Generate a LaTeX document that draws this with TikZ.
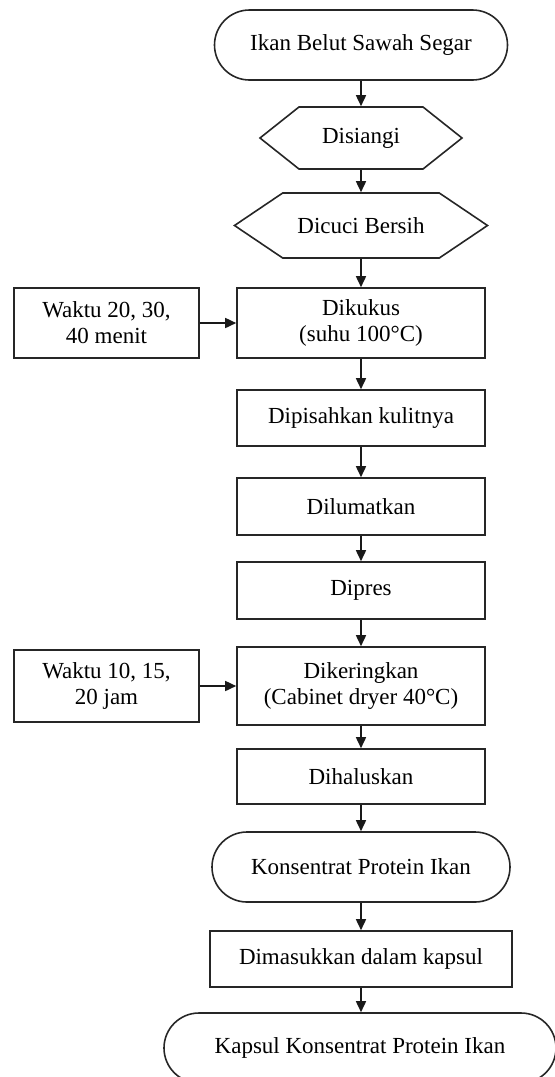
\documentclass[tikz,border=0pt]{standalone}
\usepackage{fontspec}
\setmainfont{Liberation Serif}
\usetikzlibrary{arrows.meta,shapes.symbols}

\begin{document}
\begin{tikzpicture}
    [
      x=0.5pt,y=-0.5pt,
      font=\fontsize{11.5}{13}\selectfont,
      terminal/.style={draw=black!85,line width=0.8pt,rectangle,
        rounded corners=17.5pt,minimum height=35pt},
      process/.style={draw=black!85,line width=0.8pt,rectangle,align=center},
      prep/.style={draw=black!85,line width=0.8pt,signal,
        signal to=west and east},
      flow/.style={-{Triangle[length=5.5pt,width=5pt]},line width=0.8pt,
        draw=black!90}
    ]

    \useasboundingbox (0,0) rectangle (554,1077);

    % main column
    \node at (361,45) [terminal,minimum width=146.5pt] (ikan) {Ikan Belut Sawah Segar};
    \node at (361,138) [prep,signal pointer angle=77,minimum width=101pt,
      minimum height=31pt] (siangi) {Disiangi};
    \node at (361,225.5) [prep,signal pointer angle=68,minimum width=126.5pt,
      minimum height=32.5pt] (cuci) {Dicuci Bersih};
    \node at (361,323) [process,minimum width=124pt,minimum height=35pt]
      (kukus) {Dikukus\\(suhu 100°C)};
    \node at (361,418) [process,minimum width=124pt,minimum height=28pt]
      (kulit) {Dipisahkan kulitnya};
    \node at (361,506.5) [process,minimum width=124pt,minimum height=28.5pt]
      (lumat) {Dilumatkan};
    \node at (361,590.5) [process,minimum width=124pt,minimum height=28.5pt]
      (pres) {Dipres};
    \node at (361,686) [process,minimum width=124pt,minimum height=39pt]
      (kering) {Dikeringkan\\(Cabinet dryer 40°C)};
    \node at (361,776.5) [process,minimum width=124pt,minimum height=27.5pt]
      (halus) {Dihaluskan};
    \node at (361,867) [terminal,minimum width=149pt] (kpi) {Konsentrat Protein Ikan};
    \node at (361,959) [process,minimum width=151pt,minimum height=28pt]
      (kapsul) {Dimasukkan dalam kapsul};
    \node at (360,1048) [terminal,minimum width=196pt]
      (hasil) {Kapsul Konsentrat Protein Ikan};

    % side inputs
    \node at (106.5,323) [process,minimum width=92.5pt,minimum height=35pt]
      (menit) {Waktu 20, 30,\\40 menit};
    \node at (106.5,686) [process,minimum width=92.5pt,minimum height=36pt]
      (jam) {Waktu 10, 15,\\20 jam};

    \draw [flow] (ikan) -- (siangi);
    \draw [flow] (siangi) -- (cuci);
    \draw [flow] (cuci) -- (kukus);
    \draw [flow] (kukus) -- (kulit);
    \draw [flow] (kulit) -- (lumat);
    \draw [flow] (lumat) -- (pres);
    \draw [flow] (pres) -- (kering);
    \draw [flow] (kering) -- (halus);
    \draw [flow] (halus) -- (kpi);
    \draw [flow] (kpi) -- (kapsul);
    \draw [flow] (kapsul.south) -- (hasil.north-|kapsul.south);

    \draw [flow] (menit) -- (kukus);
    \draw [flow] (jam) -- (kering);
  \end{tikzpicture}
\end{document}
